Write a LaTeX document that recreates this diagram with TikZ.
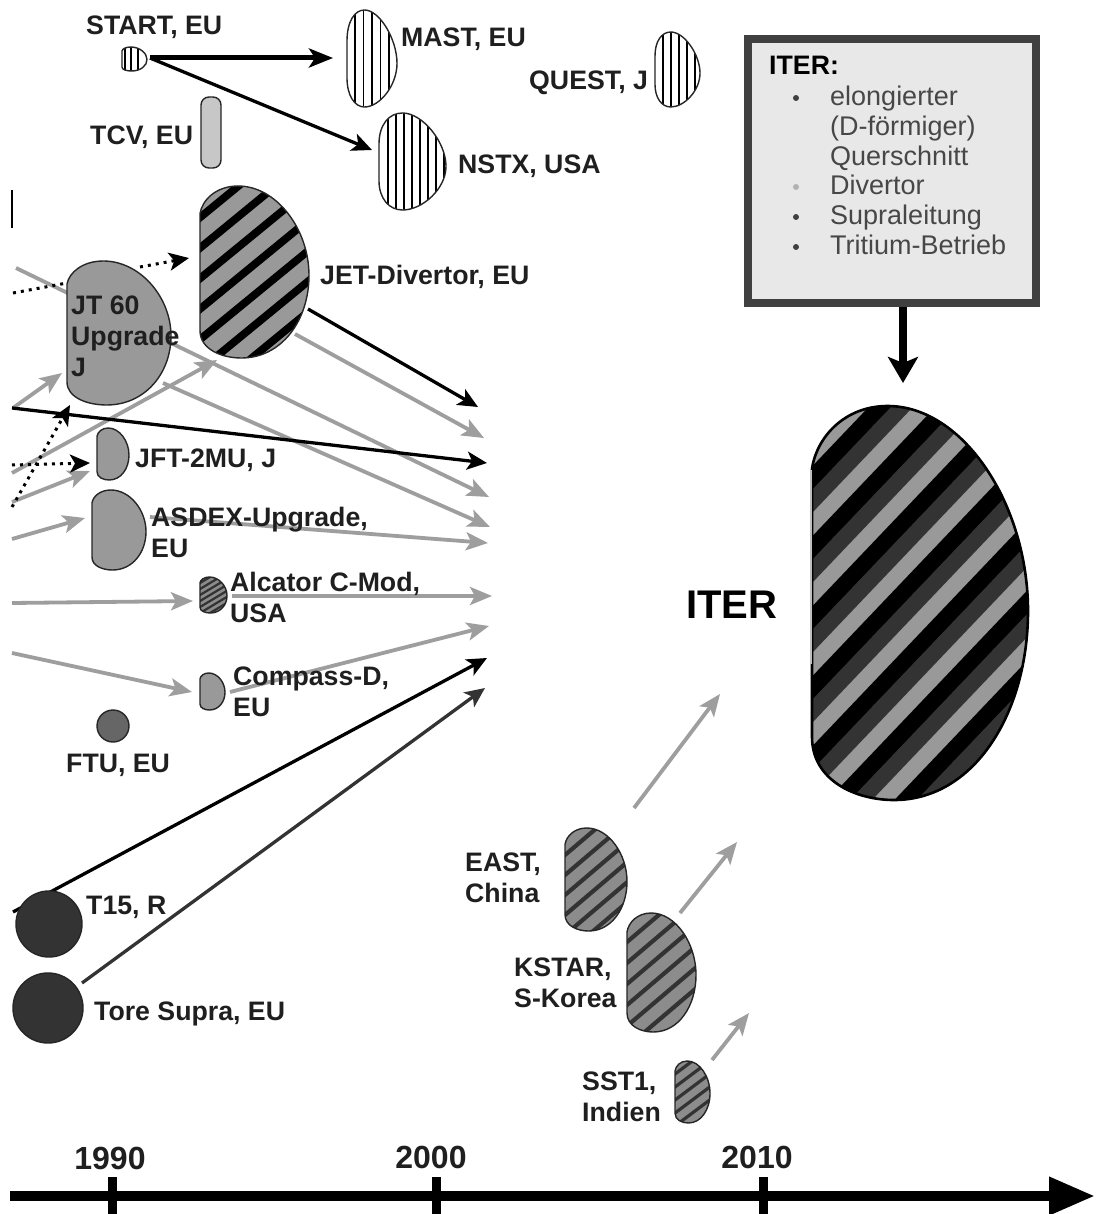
\documentclass[tikz,border=0pt]{standalone}
\usepackage{fontspec}
\setmainfont{Liberation Sans}
\usetikzlibrary{arrows.meta}
\tikzset{
  dpath/.style={insert path={(0,.16) .. controls (.02,.08) and (.15,0) .. (.35,0) .. controls (.7,0) and (1,.25) .. (1,.52) .. controls (1,.78) and (.75,1) .. (.38,1) .. controls (.2,1) and (0,.95) .. (0,.84) -- cycle}},
  dpathb/.style={insert path={(0,.32) .. controls (0,.12) and (.15,0) .. (.35,0) .. controls (.65,0) and (1,.3) .. (1,.55) .. controls (1,.78) and (.65,1) .. (.35,1) .. controls (.15,1) and (0,.88) .. (0,.7) -- cycle}},
  tokline/.style={draw=black!85,line width=1.4pt},
  blk/.style={black,line width=3.3pt,-{Stealth[length=20pt,width=18pt,inset=5pt]}},
  blkthick/.style={black,line width=5pt,-{Stealth[length=24pt,width=19pt,inset=6pt]}},
  dgr/.style={black!80,line width=3.3pt,-{Stealth[length=20pt,width=18pt,inset=5pt]}},
  gry/.style={black!38,line width=3.8pt,-{Stealth[length=22pt,width=18pt,inset=5pt]}},
  dot/.style={black,line width=3pt,dash pattern=on 3pt off 5pt},
  dotarr/.style={dot,-{Stealth[length=20pt,width=18pt,inset=5pt]}},
  lab/.style={inner sep=0pt,anchor=base west,align=left,text=black!88,font=\fontsize{26.7}{31}\selectfont\bfseries},
  body/.style={inner sep=0pt,anchor=base west,text=black!72,font=\fontsize{27}{30}\selectfont},
  yearlab/.style={inner sep=0pt,anchor=base,text=black!88,font=\fontsize{32}{36}\selectfont\bfseries},
  bull/.style={circle,inner sep=0pt,minimum size=6pt,fill=black!75},
  bullg/.style={circle,inner sep=0pt,minimum size=6pt,fill=black!30},
}
\newcommand\tokshape[8]{%
  \pgfmathsetmacro\tokw{#4-#2}\pgfmathsetmacro\tokh{#5-#3}%
  \begin{scope}
    \clip[shift={(#2,#3)},xscale=\tokw,yscale=\tokh,#6];
    \fill[#7] (#2-5,#3-5) rectangle (#4+5,#5+5);
    #8
  \end{scope}
  \draw[tokline,shift={(#2,#3)},xscale=\tokw,yscale=\tokh,#6];
  \node[inner sep=0pt,minimum width=\tokw pt,minimum height=\tokh pt] (#1) at ({(#2+#4)/2},{(#3+#5)/2}) {};
}
% stripes: xleft xright yref period vertical-width slope colour
\newcommand\diag[7]{%
  \pgfmathtruncatemacro\dn{(2*(#2-#1)*#6+600)/#4+2}%
  \pgfmathsetmacro\dw{#5/sqrt(1+#6*#6)}%
  \foreach \k in {-\dn,...,\dn}{
    \draw[#7,line width=\dw pt] (#1-30,{#3+\k*#4+30*#6}) -- (#2+30,{#3+\k*#4-(#2-#1+30)*#6});
  }%
}
\newcommand\vlines[5]{% first period count y0 y1
  \foreach \k in {0,...,#3}{
    \draw[black,line width=1.1pt] ({#1+\k*#2},#4) -- ({#1+\k*#2},#5);
  }%
}
\begin{document}
\begin{tikzpicture}[x=1pt,y=-1pt]
\useasboundingbox (0,0) rectangle (1095,1214);
\fill[white] (0,0) rectangle (1095,1214);

% free ends
\foreach \n/\x/\y in {
 a1/16/268, a2/489/497, b1/163/383, b2/490/527, c1/13/408, c2/62/373,
 d1/12/473, d2/217/360, e1/12/502, e2/90/471, f1/12/539, f2/85/518,
 g1/150/517, g2/488/543, h1/12/603, h2/193/601, i1/232/596, i2/492/596,
 j1/12/653, j2/192/692, k1/230/692, k2/489/626, l1/12/408, l2/487/463,
 m1/13/912, m2/487/658, n1/82/983, n2/485/688, o1/295/334, o2/484/438,
 p1/308/309, p2/478/407, q1/12/507, q2/70/405, r1/12/465, r2/90/463,
 s1/13/293, s2/67/283, t1/140/267, t2/189/258,
 u1/634/808, u2/720/694, v1/680/913, v2/737/842, w1/712/1060, w2/749/1013,
 x1/150/58, x2/333/58, y1/150/58, y2/372/150, z1/12/190, z2/12/228,
 ax1/10/1196, ax2/1095/1196, ta1/112/1177, ta2/112/1214, tb1/436/1177, tb2/436/1214,
 tc1/763/1177, tc2/763/1214, bx1/903/307, bx2/903/383}
 {\coordinate (\n) at (\x,\y);}

% connectors
\draw[gry] (a1) -- (a2);
\draw[gry] (b1) -- (b2);
\draw[gry] (c1) -- (c2);
\draw[gry] (d1) -- (d2);
\draw[gry] (e1) -- (e2);
\draw[gry] (f1) -- (f2);
\draw[gry] (g1) -- (g2);
\draw[gry] (h1) -- (h2);
\draw[gry] (i1) -- (i2);
\draw[gry] (j1) -- (j2);
\draw[gry] (k1) -- (k2);
\draw[gry] (o1) -- (o2);
\draw[blk] (l1) -- (l2);
\draw[blk] (m1) -- (m2);
\draw[dgr] (n1) -- (n2);
\draw[blk] (p1) -- (p2);
\draw[dotarr] (q1) -- (q2);
\draw[dotarr] (r1) -- (r2);
\draw[dot] (s1) -- (s2);
\draw[dotarr] (t1) -- (t2);
\draw[gry] (u1) -- (u2);
\draw[gry] (v1) -- (v2);
\draw[gry] (w1) -- (w2);
\draw[blkthick] (x1) -- (x2);
\draw[blk] (y1) -- (y2);
\draw[black,line width=2.4pt] (z1) -- (z2);

% tokamak cross-sections
\tokshape{start}{122}{47}{147}{71}{dpath}{white}{\vlines{131}{7}{1}{47}{71}\vlines{125}{0}{0}{47}{71}}
\tokshape{mast}{347}{10}{397}{107}{dpathb}{white}{\vlines{355}{8.5}{4}{10}{107}}
\tokshape{nstx}{379}{113}{446}{210}{dpathb}{white}{\vlines{388}{8}{7}{113}{210}}
\tokshape{quest}{655}{32}{700}{107}{dpathb}{white}{\vlines{663}{8}{4}{32}{107}}
\filldraw[tokline,fill=black!22,rounded corners=8pt] (201,97) rectangle (221,168);
\node[inner sep=0pt,minimum width=20pt,minimum height=71pt] (tcv) at (211,132.5) {};
\tokshape{jt}{67}{261}{171}{405}{dpath}{black!40}{}
\tokshape{jet}{200}{186}{309}{358}{dpath}{black!40}{\diag{200}{309}{248}{30.5}{10}{.82}{black}}
\tokshape{jft}{97}{428}{129}{480}{dpath}{black!40}{}
\tokshape{asdex}{92}{490}{146}{570}{dpath}{black!40}{}
\tokshape{alcator}{200}{577}{227}{613}{dpath}{black!45}{\diag{200}{227}{595}{6}{2.6}{.6}{black!80}}
\tokshape{compass}{200}{673}{225}{710}{dpath}{black!40}{}
\filldraw[tokline,fill=black!60] (113,726) circle (16);
\node[inner sep=0pt,minimum size=32pt,circle] (ftu) at (113,726) {};
\filldraw[tokline,fill=black!80] (49,924) circle (33);
\node[inner sep=0pt,minimum size=66pt,circle] (t15) at (49,924) {};
\filldraw[tokline,fill=black!80] (48,1008) circle (35);
\node[inner sep=0pt,minimum size=70pt,circle] (tore) at (48,1008) {};
\tokshape{east}{565}{828}{627}{931}{dpath}{black!45}{\diag{565}{627}{855}{20}{5.5}{.85}{black!80}}
\tokshape{kstar}{627}{913}{696}{1032}{dpath}{black!45}{\diag{627}{696}{942}{21}{5.5}{.85}{black!80}}
\tokshape{sst}{675}{1061}{710}{1123}{dpath}{black!45}{\diag{675}{710}{1087}{13}{4}{.75}{black!80}}
\tokshape{iter}{812}{406}{1028}{800}{dpath}{black!40}{%
  \diag{812}{1028}{548.5}{70}{24}{1.05}{black}%
  \diag{812}{1028}{571.5}{70}{23}{1.05}{black!80}}
\draw[black,line width=2.6pt,shift={(812,406)},xscale=216,yscale=394,dpath];
\draw[black!25,line width=2pt] (811,470) -- (811,664);

% labels
\node[lab] (lstart) at (86,35) {START, EU};
\node[lab] (lmast) at (401,47) {MAST, EU};
\node[lab] (lquest) at (529,90) {QUEST, J};
\node[lab] (ltcv) at (90,145) {TCV, EU};
\node[lab] (lnstx) at (458,174) {NSTX, USA};
\node[lab] (ljet) at (320,285) {JET-Divertor, EU};
\node[lab] (ljt) at (71,376) {JT 60\\Upgrade\\J};
\node[lab] (ljft) at (135,467) {JFT-2MU, J};
\node[lab] (lasdex) at (151,557) {ASDEX-Upgrade,\\EU};
\node[lab] (lalcator) at (230,622) {Alcator C-Mod,\\USA};
\node[lab] (lcompass) at (233,716) {Compass-D,\\EU};
\node[lab] (lftu) at (66,772) {FTU, EU};
\node[lab] (lt15) at (86,914) {T15, R};
\node[lab] (ltore) at (94,1020) {Tore Supra, EU};
\node[lab] (least) at (465,902) {EAST,\\China};
\node[lab] (lkstar) at (514,1007) {KSTAR,\\S-Korea};
\node[lab] (lsst) at (582,1121) {SST1,\\Indien};
\node[lab,font=\fontsize{40}{46}\selectfont\bfseries,text=black] (liter) at (686,618) {ITER};

% ITER box
\node[inner sep=0pt,minimum width=288pt,minimum height=264pt,draw=black!75,line width=8pt,fill=black!9] (box) at (892,171) {};
\node[lab,text=black] (bt) at (769,75) {ITER:};
\node[body] (b1) at (830,106) {elongierter};
\node[body] (b2) at (830,136) {(D-förmiger)};
\node[body] (b3) at (830,166) {Querschnitt};
\node[body] (b4) at (830,195) {Divertor};
\node[body] (b5) at (830,225) {Supraleitung};
\node[body] (b6) at (830,255) {Tritium-Betrieb};
\node[bull] (p1b) at (796,98) {};
\node[bullg] (p2b) at (796,187) {};
\node[bull] (p3b) at (796,217) {};
\node[bull] (p4b) at (796,247) {};
\draw[black,line width=8pt,-{Stealth[length=26pt,width=30pt,inset=6pt]}] (bx1) -- (bx2);

% time axis
\draw[black,line width=10pt,-{Triangle[length=46pt,width=36pt]}] (ax1) -- (ax2);
\draw[black,line width=9pt] (ta1) -- (ta2);
\draw[black,line width=9pt] (tb1) -- (tb2);
\draw[black,line width=9pt] (tc1) -- (tc2);
\node[yearlab] (y1990) at (110,1169) {1990};
\node[yearlab] (y2000) at (431,1168) {2000};
\node[yearlab] (y2010) at (757,1168) {2010};
\end{tikzpicture}
\end{document}
